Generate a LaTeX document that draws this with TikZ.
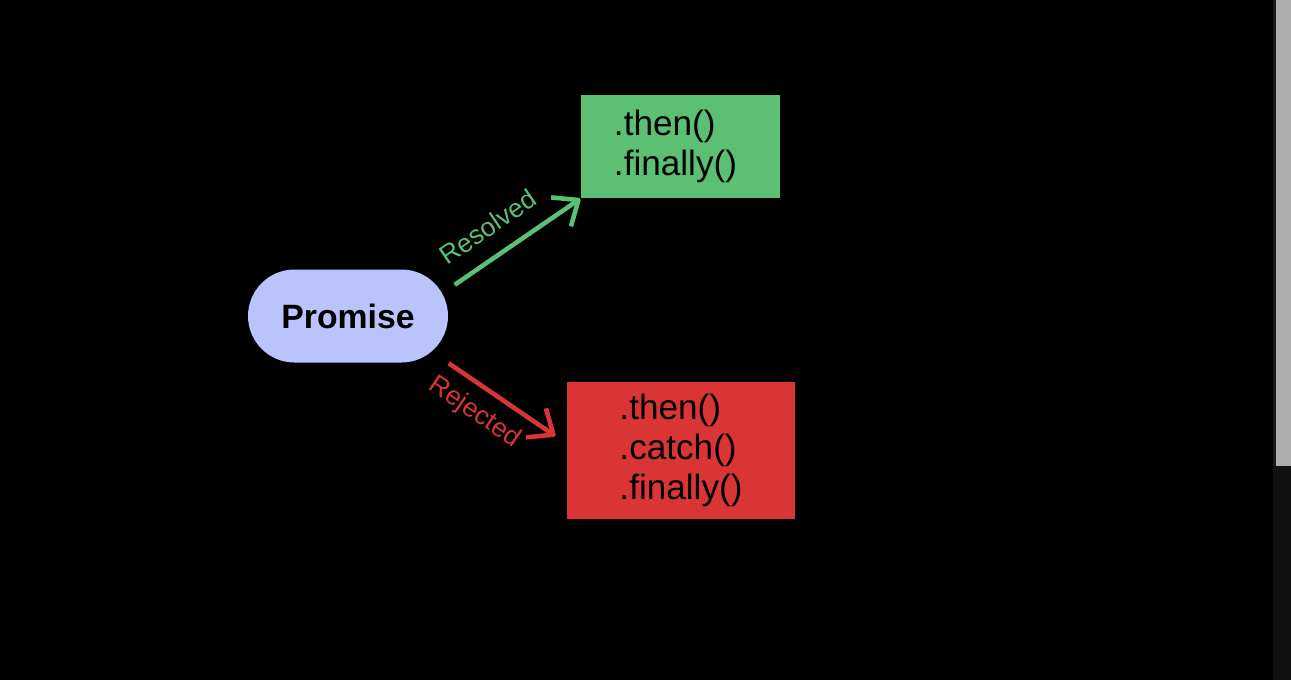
\documentclass[tikz,border=0pt]{standalone}
\usepackage{fontspec}
\setmainfont{Liberation Sans}
\usetikzlibrary{arrows.meta}
\definecolor{promisefill}{RGB}{185,195,252}
\definecolor{resolvedgreen}{RGB}{91,191,116}
\definecolor{rejectedred}{RGB}{217,53,53}
\definecolor{scrollstrip}{RGB}{28,28,28}
\definecolor{scrolltrack}{RGB}{17,17,17}
\definecolor{scrollthumb}{RGB}{173,173,173}

\begin{document}
\begin{tikzpicture}[
        pill/.style={fill=promisefill, minimum width=2cm, minimum height=0.93cm, rounded corners=0.465cm, font=\fontsize{9.6}{11}\selectfont\bfseries},
        methods/.style={align=left, inner sep=0pt, font=\fontsize{10}{11.4}\selectfont},
        arrow/.style={-{Straight Barb[length=6pt, width=10pt, line join=round]}, line width=1.3pt},
        edgelabel/.style={sloped, font=\fontsize{7.5}{9}\selectfont}
    ]
        % --- background and scrollbar ---
        \useasboundingbox (0,0) rectangle (12.91,6.80);
        \fill[black] (0,0) rectangle (12.91,6.80);
        \fill[scrollstrip] (12.73,2.14) rectangle (12.76,6.80);
        \fill[scrollthumb] (12.76,2.14) rectangle (12.91,6.80);
        \fill[scrolltrack] (12.73,0) rectangle (12.91,2.14);

        % --- Promise ---
        \node[pill] (promise) at (3.48, 3.64) {Promise};

        % --- outcome boxes ---
        \node[methods, fill=resolvedgreen, minimum width=1.99cm, minimum height=1.03cm] (resolved) at (6.805, 5.335) {.then()\\.finally()\hspace*{0.1cm}};
        \node[methods, fill=rejectedred, minimum width=2.28cm, minimum height=1.37cm] (rejected) at (6.81, 2.295) {.then()\\.catch()\\.finally()};

        % --- arrows ---
        \draw[arrow, resolvedgreen] ([shift={(0.06,-0.16)}]promise.north east) -- (resolved.south west)
            node[edgelabel, pos=0.395, above=1.5pt, text=resolvedgreen] {Resolved};
        \draw[arrow, rejectedred] (promise.south east) -- ([shift={(-0.11,0.145)}]rejected.west)
            node[edgelabel, pos=0.38, below=0pt, text=rejectedred] {Rejected};
    \end{tikzpicture}
\end{document}
